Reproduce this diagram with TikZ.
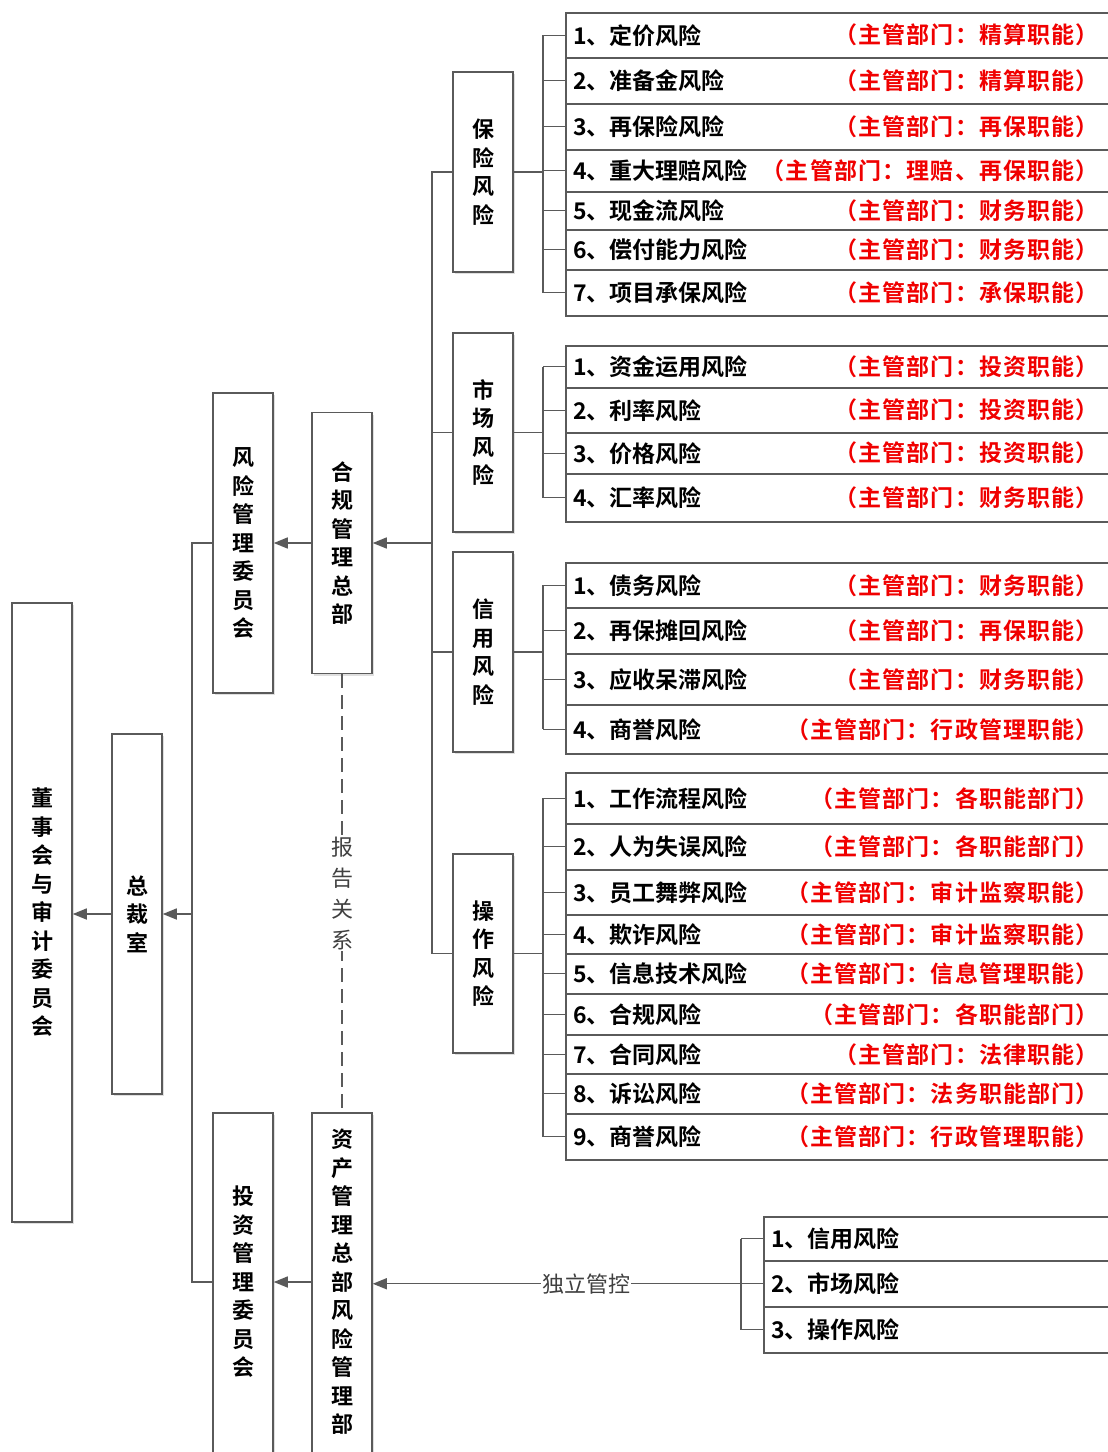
\documentclass[tikz,border=0pt]{standalone}
\usepackage{fontspec}
\setmainfont{Noto Sans CJK SC}[BoldFont={Noto Sans CJK SC Bold}]
\newfontfamily\redfont{Noto Sans CJK SC}[BoldFont={Noto Sans CJK SC Bold},LetterSpace=5]
\usetikzlibrary{arrows.meta,shadows}
\definecolor{lc}{HTML}{5A5A5A}
\definecolor{rc}{HTML}{F00000}
\newcommand\rrow[6]{% name, left x, top y, height, black text, red text
  \node[rowbox, minimum height=#4, anchor=north west] (#1) at (#2,#3) {};
  \node[blk, anchor=west] (#1-a) at ([xshift=8]#1.west) {#5};
  \node[rd, anchor=east] (#1-b) at ([xshift=534]#1.west) {#6};
  \draw[ln] (#1.west) -- ++(-22,0);
}
\begin{document}
\begin{tikzpicture}[x=1pt,y=-1pt,
  ln/.style={draw=lc, line width=1.4pt},
  arr/.style={ln, -{Triangle[length=14pt,width=11pt]}},
  dsh/.style={ln, dash pattern=on 14pt off 7pt},
  tallbox/.style={draw=lc, line width=1.5pt, fill=white, inner sep=0pt,
    drop shadow={shadow xshift=2pt,shadow yshift=-2pt,opacity=0.25,fill=gray}},
  rowbox/.style={draw=lc, line width=1.5pt, minimum width=560, inner sep=0pt},
  stk/.style={align=center, inner sep=0pt, font=\bfseries\fontsize{22}{28.5}\selectfont},
  stkl/.style={align=center, inner sep=1pt, text=black!75, font=\fontsize{22}{31}\selectfont},
  blk/.style={inner sep=0pt, font=\bfseries\fontsize{23}{24}\selectfont},
  rd/.style={inner sep=0pt, text=rc, font=\redfont\bfseries\fontsize{23}{24}\selectfont},
  lbl/.style={inner sep=1pt, text=black!75, font=\fontsize{22}{24}\selectfont}
]
\useasboundingbox (0,0) rectangle (1108,1452);
\clip (0,0) rectangle (1108,1452);
\fill[white] (0,0) rectangle (1108,1452);

% left boxes
\node[tallbox, minimum width=60, minimum height=619] (dsh) at (42,912.5) {};
\node[stk] (dsh-t) at (dsh.center) {董\\事\\会\\与\\审\\计\\委\\员\\会};
\node[tallbox, minimum width=50, minimum height=360] (zcs) at (137,914) {};
\node[stk] (zcs-t) at (zcs.center) {总\\裁\\室};
\node[tallbox, minimum width=60, minimum height=300] (fxw) at (243,543) {};
\node[stk] (fxw-t) at (fxw.center) {风\\险\\管\\理\\委\\员\\会};
\node[tallbox, minimum width=60, minimum height=261] (hg) at (342,543) {};
\node[stk] (hg-t) at (hg.center) {合\\规\\管\\理\\总\\部};
\node[tallbox, minimum width=60, minimum height=380] (tzw) at (243,1303) {};
\node[stk] (tzw-t) at (243,1282) {投\\资\\管\\理\\委\\员\\会};
\node[tallbox, minimum width=60, minimum height=380] (zc) at (342,1303) {};
\node[stk] (zc-t) at (342,1282) {资\\产\\管\\理\\总\\部\\风\\险\\管\\理\\部};

% group boxes
\node[tallbox, minimum width=60, minimum height=200] (bx) at (483,172) {};
\node[stk] (bx-t) at (bx.center) {保\\险\\风\\险};
\node[tallbox, minimum width=60, minimum height=199] (sc) at (483,432.5) {};
\node[stk] (sc-t) at (sc.center) {市\\场\\风\\险};
\node[tallbox, minimum width=60, minimum height=200] (xy) at (483,652) {};
\node[stk] (xy-t) at (xy.center) {信\\用\\风\\险};
\node[tallbox, minimum width=60, minimum height=199] (cz) at (483,953.5) {};
\node[stk] (cz-t) at (cz.center) {操\\作\\风\\险};

% connectors on the left
\coordinate (t1) at (192,543);
\coordinate (t2) at (192,1282);
\coordinate (t3) at (192,914);
\draw[ln] (fxw.west) -- (t1) -- (t2) -- (t2 -| tzw.west);
\draw[arr] (t3) -- (zcs.east);
\draw[arr] (zcs.west) -- (zcs.west -| dsh.east);
\draw[arr] (hg.west) -- (hg.west -| fxw.east);
\coordinate (b0) at (432,543);
\draw[arr] (b0) -- (hg.east);
\draw[ln] (bx.west) -- (bx.west -| b0) -- (cz.west -| b0) -- (cz.west);
\draw[ln] (sc.west) -- (sc.west -| b0);
\draw[ln] (xy.west) -- (xy.west -| b0);
\draw[arr] (zc.west |- t2) -- (tzw.east |- t2);
\draw[dsh] (hg.south) -- node[stkl, fill=white] (bg) {报\\告\\关\\系} (zc.north);

% insurance risk table
\rrow{i1}{565}{12}{45}{1、定价风险}{（主管部门：精算职能）}
\rrow{i2}{565}{57}{46}{2、准备金风险}{（主管部门：精算职能）}
\rrow{i3}{565}{103}{46}{3、再保险风险}{（主管部门：再保职能）}
\rrow{i4}{565}{149}{42}{4、重大理赔风险}{（主管部门：理赔、再保职能）}
\rrow{i5}{565}{191}{38}{5、现金流风险}{（主管部门：财务职能）}
\rrow{i6}{565}{229}{40}{6、偿付能力风险}{（主管部门：财务职能）}
\rrow{i7}{565}{269}{46}{7、项目承保风险}{（主管部门：承保职能）}
\draw[ln] ([xshift=-22]i1.west) -- ([xshift=-22]i7.west);
\draw[ln] (bx.east) -- ++(30,0);

% market risk table
\rrow{m1}{565}{345}{42}{1、资金运用风险}{（主管部门：投资职能）}
\rrow{m2}{565}{387}{45}{2、利率风险}{（主管部门：投资职能）}
\rrow{m3}{565}{432}{41}{3、价格风险}{（主管部门：投资职能）}
\rrow{m4}{565}{473}{48}{4、汇率风险}{（主管部门：财务职能）}
\draw[ln] ([xshift=-22]m1.west) -- ([xshift=-22]m4.west);
\draw[ln] (sc.east) -- ++(30,0);

% credit risk table
\rrow{c1}{565}{562}{45}{1、债务风险}{（主管部门：财务职能）}
\rrow{c2}{565}{607}{46}{2、再保摊回风险}{（主管部门：再保职能）}
\rrow{c3}{565}{653}{51}{3、应收呆滞风险}{（主管部门：财务职能）}
\rrow{c4}{565}{704}{49}{4、商誉风险}{（主管部门：行政管理职能）}
\draw[ln] ([xshift=-22]c1.west) -- ([xshift=-22]c4.west);
\draw[ln] (xy.east) -- ++(30,0);

% operation risk table
\rrow{o1}{565}{772}{51}{1、工作流程风险}{（主管部门：各职能部门）}
\rrow{o2}{565}{823}{46}{2、人为失误风险}{（主管部门：各职能部门）}
\rrow{o3}{565}{869}{45}{3、员工舞弊风险}{（主管部门：审计监察职能）}
\rrow{o4}{565}{914}{39}{4、欺诈风险}{（主管部门：审计监察职能）}
\rrow{o5}{565}{953}{40}{5、信息技术风险}{（主管部门：信息管理职能）}
\rrow{o6}{565}{993}{41}{6、合规风险}{（主管部门：各职能部门）}
\rrow{o7}{565}{1034}{39}{7、合同风险}{（主管部门：法律职能）}
\rrow{o8}{565}{1073}{40}{8、诉讼风险}{（主管部门：法务职能部门）}
\rrow{o9}{565}{1113}{46}{9、商誉风险}{（主管部门：行政管理职能）}
\draw[ln] ([xshift=-22]o1.west) -- ([xshift=-22]o9.west);
\draw[ln] (cz.east) -- ++(30,0);

% asset management risks
\rrow{a1}{763}{1216}{44}{1、信用风险}{}
\rrow{a2}{763}{1260}{46}{2、市场风险}{}
\rrow{a3}{763}{1306}{46}{3、操作风险}{}
\draw[ln] ([xshift=-22]a1.west) -- ([xshift=-22]a3.west);
\coordinate (b3) at ([xshift=-22]a2.west);
\draw[arr] (b3) -- node[lbl, fill=white, pos=0.42] (dl) {独立管控} (b3 -| zc.east);
\end{tikzpicture}
\end{document}
